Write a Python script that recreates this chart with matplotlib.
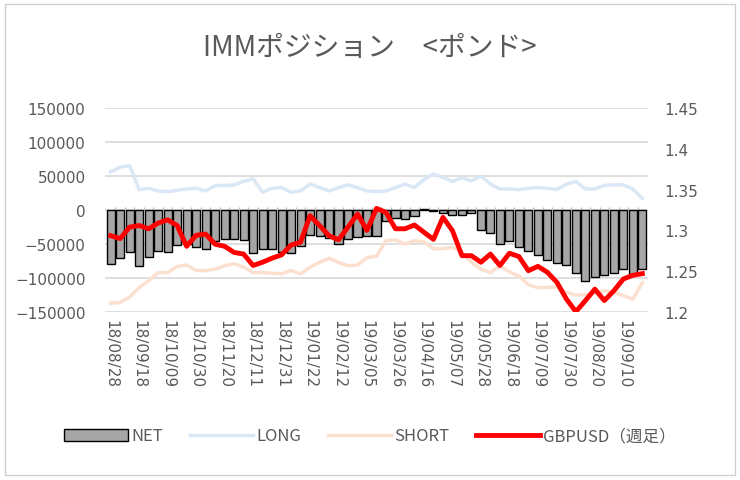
import numpy as np
import matplotlib.pyplot as plt
from matplotlib.patches import Rectangle
import datetime as dt

plt.rcParams['font.family'] = ['DejaVu Sans', 'Noto Sans CJK JP']

start = dt.date(2018, 8, 28)
dates = [start + dt.timedelta(weeks=i) for i in range(57)]
labels = [d.strftime("%y/%m/%d") for d in dates]
labels[18] = "18/12/31"  # holiday week reported on Monday

net = [-79000, -70600, -62000, -82000, -69000, -61000, -62000, -51000, -50000, -54000,
       -58000, -45000, -42000, -42000, -44000, -63000, -58000, -57000, -62000, -63000,
       -53000, -37000, -38000, -41000, -50000, -42000, -39000, -38000, -38000, -16000,
       -12000, -13000, -9000, 1500, -1000, -4000, -7000, -8000, -5000, -29000,
       -34000, -50000, -45000, -55000, -60000, -66000, -74000, -78000, -81000, -93000,
       -104000, -99000, -96000, -93000, -87000, -94000, -87000]
long_ = [56000, 63000, 65000, 30000, 32000, 28000, 27000, 29000, 31000, 32000,
         28000, 36000, 36000, 37000, 42000, 46000, 26000, 32000, 33000, 26000,
         28000, 38000, 33000, 28000, 33000, 37000, 33000, 28000, 27000, 28000,
         33000, 38000, 33000, 45000, 53000, 48000, 42000, 47000, 43000, 50000,
         38000, 31000, 31000, 30000, 32000, 33000, 32000, 30000, 38000, 42000,
         31000, 31000, 36000, 37000, 37000, 31000, 17000]
short = [-137000, -136000, -128000, -114000, -104000, -92000, -92000, -83000, -81000, -89000,
         -89000, -87000, -82000, -79000, -84000, -92000, -92000, -93000, -94000, -89000,
         -94000, -84000, -77000, -71000, -77000, -82000, -81000, -70000, -68000, -45000,
         -44000, -50000, -45000, -47000, -57000, -57000, -55000, -61000, -77000, -87000,
         -92000, -82000, -91000, -97000, -110000, -114000, -114000, -113000, -121000, -125000,
         -125000, -122000, -119000, -121000, -126000, -131000, -107000]
gbpusd = [1.2935, 1.290, 1.304, 1.306, 1.302, 1.309, 1.313, 1.306, 1.2805, 1.294,
          1.2955, 1.283, 1.2805, 1.273, 1.271, 1.257, 1.261, 1.266, 1.270, 1.282,
          1.2855, 1.318, 1.306, 1.2935, 1.2885, 1.304, 1.320, 1.300, 1.327, 1.322,
          1.302, 1.302, 1.3066, 1.2977, 1.289, 1.316, 1.2997, 1.269, 1.269, 1.261,
          1.271, 1.257, 1.272, 1.268, 1.2506, 1.256, 1.2487, 1.2364, 1.216, 1.2004,
          1.2139, 1.228, 1.214, 1.226, 1.2404, 1.245, 1.247]

txt = '#595959'
x = np.arange(len(dates))

fig = plt.figure(figsize=(7.4, 4.81), dpi=100)
fig.patches.append(Rectangle((5 / 740, 5 / 481), 730 / 740, 471 / 481, transform=fig.transFigure,
                             fill=False, edgecolor='#d0d0d0', lw=1))
ax = fig.add_axes([105 / 740, 1 - 313 / 481, 543 / 740, 204 / 481])

for v in range(-150000, 150001, 50000):
    ax.axhline(v, color='#d9d9d9', lw=1.2, zorder=0)
bars = ax.bar(x, net, width=0.85, color='#a6a6a6', edgecolor='black', lw=1, zorder=2)
l_long, = ax.plot(x, long_, color='#dae8f6', lw=2.5, zorder=1)
l_short, = ax.plot(x, short, color='#fbe0d0', lw=2.5, zorder=1)
ax.vlines(x[:-1] + 0.5, 0, 4000, color='#bfbfbf', lw=1, zorder=1)

ax.set_xlim(-0.6, len(x) - 0.4)
ax.set_ylim(-150000, 150000)
ax.set_yticks(range(-150000, 150001, 50000))
ax.set_xticks(x[::3])
ax.set_xticklabels(labels[::3], rotation=-90, fontsize=11, color=txt)
ax.tick_params(axis='x', length=0, pad=5)
ax.tick_params(axis='y', length=0, labelsize=11, labelcolor=txt, pad=14)
for s in ax.spines.values():
    s.set_visible(False)

ax2 = ax.twinx()
l_fx, = ax2.plot(x, gbpusd, color='#ff0000', lw=3.5, zorder=3)
ax2.set_ylim(1.2, 1.45)
ax2.set_yticks([1.2, 1.25, 1.3, 1.35, 1.4, 1.45])
ax2.set_yticklabels(['1.2', '1.25', '1.3', '1.35', '1.4', '1.45'])
ax2.tick_params(axis='y', length=0, labelsize=11, labelcolor=txt, pad=12)
for s in ax2.spines.values():
    s.set_visible(False)

fig.legend([bars, l_long, l_short, l_fx], ['NET', 'LONG', 'SHORT', 'GBPUSD（週足）'],
           loc='center', bbox_to_anchor=(0.5, 1 - 437 / 481), ncol=4,
           frameon=False, labelcolor=txt, handlelength=3.8, columnspacing=1.6,
           handletextpad=0.2, prop={'family': ['Noto Sans CJK JP'], 'size': 12})

fig.text(0.5, 1 - 48 / 481, 'IMMポジション　<ポンド>', ha='center', va='center',
         fontsize=20, color=txt, family=['Noto Sans CJK JP'])

fig.savefig('out.png', dpi=100)
